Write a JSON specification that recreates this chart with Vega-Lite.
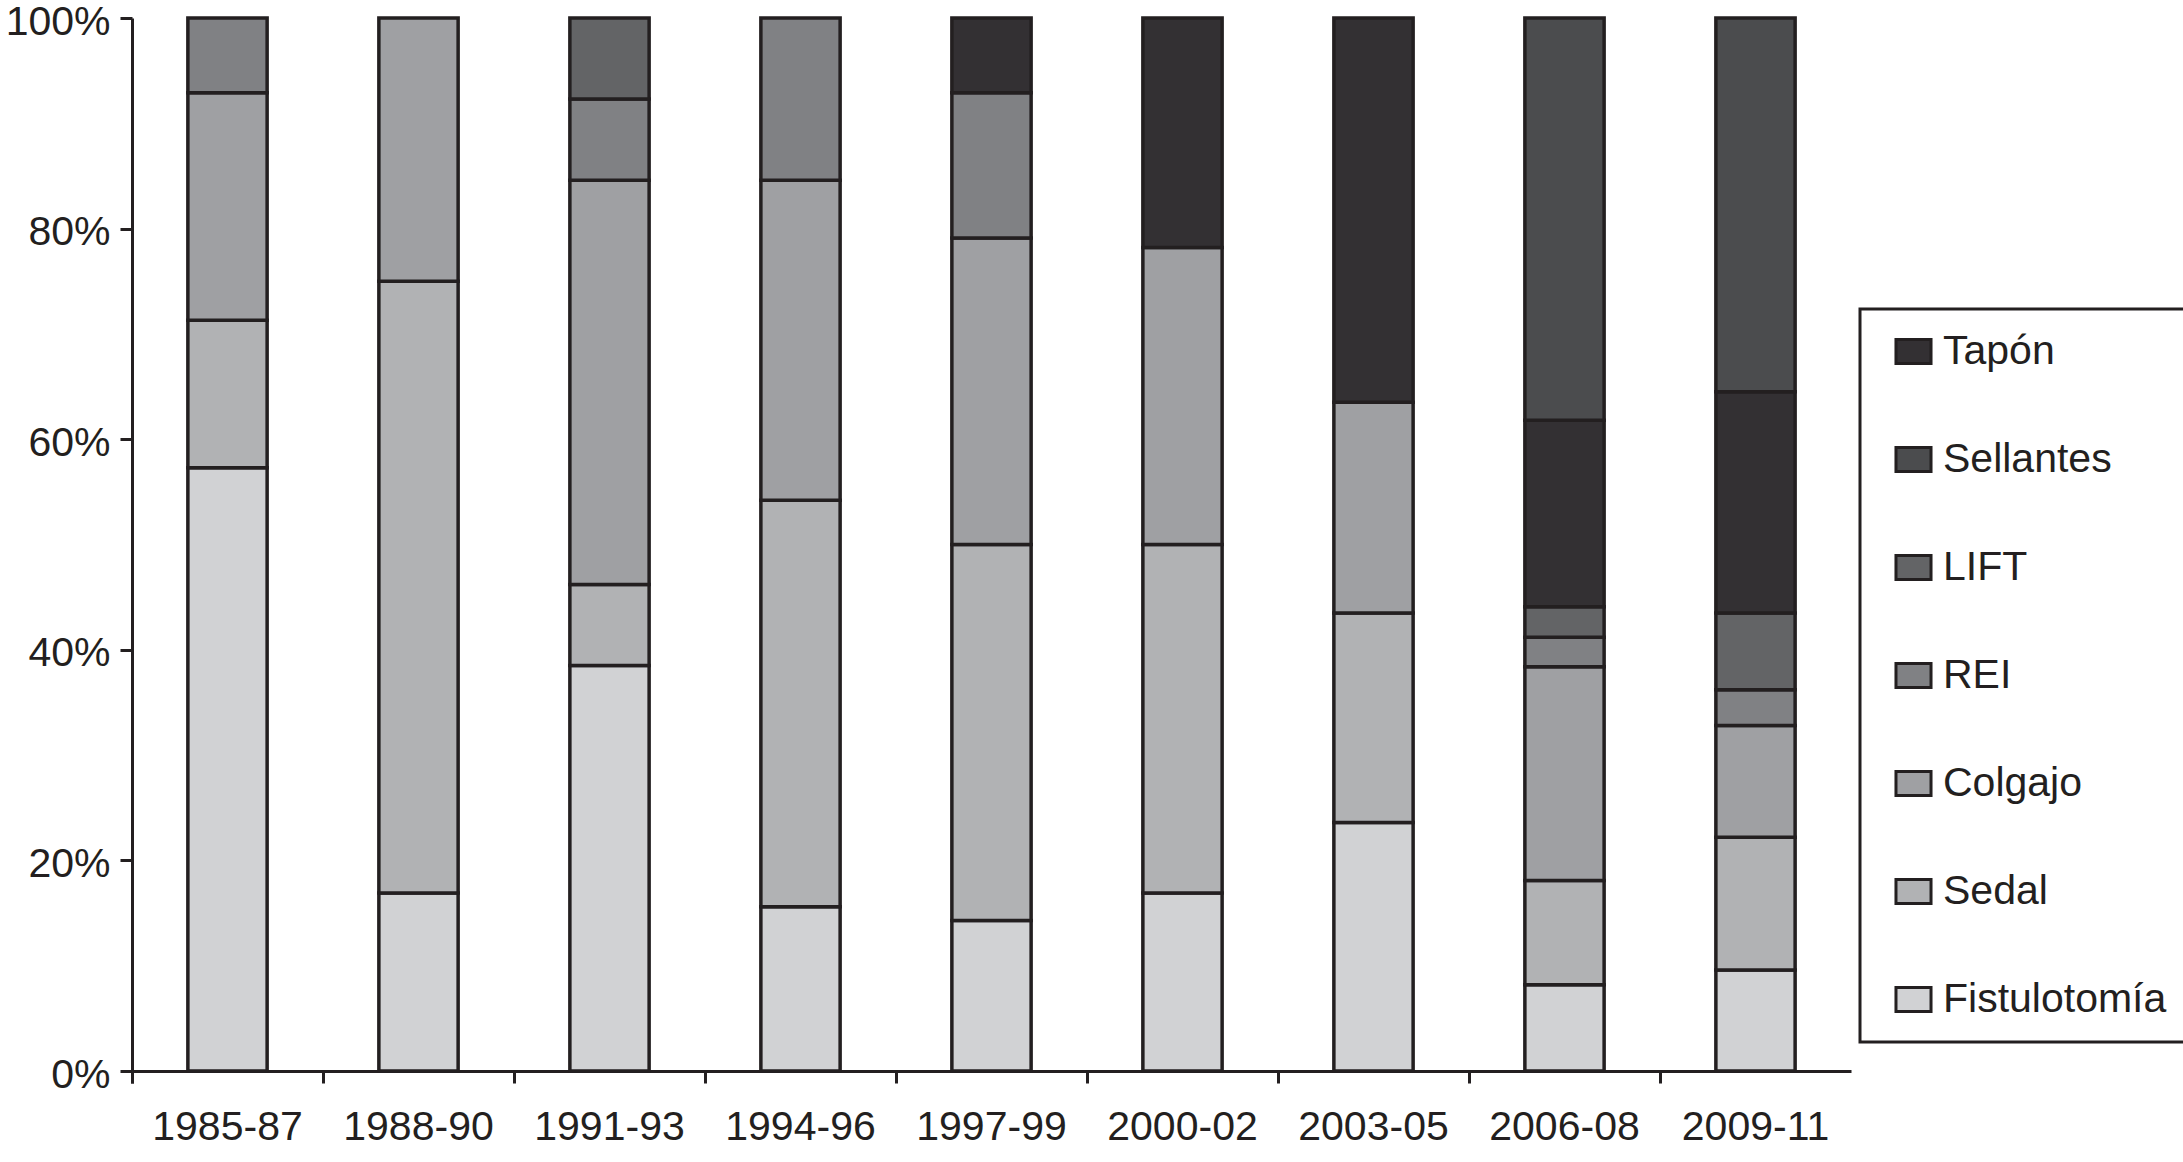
{
  "$schema": "https://vega.github.io/schema/vega-lite/v6.json",
  "autosize": {"type": "none"},
  "padding": {"left": 132, "top": 18, "right": 332, "bottom": 91},
  "width": 1719,
  "height": 1053,
  "background": "white",
  "data": {
    "values": [
      {"periodo": "1985-87", "tecnica": "Fistulotomía", "ord": 1, "pct": 57.3},
      {"periodo": "1985-87", "tecnica": "Sedal", "ord": 2, "pct": 14.0},
      {"periodo": "1985-87", "tecnica": "Colgajo", "ord": 3, "pct": 21.6},
      {"periodo": "1985-87", "tecnica": "REI", "ord": 4, "pct": 7.1},
      {"periodo": "1988-90", "tecnica": "Fistulotomía", "ord": 1, "pct": 16.9},
      {"periodo": "1988-90", "tecnica": "Sedal", "ord": 2, "pct": 58.1},
      {"periodo": "1988-90", "tecnica": "Colgajo", "ord": 3, "pct": 25.0},
      {"periodo": "1991-93", "tecnica": "Fistulotomía", "ord": 1, "pct": 38.5},
      {"periodo": "1991-93", "tecnica": "Sedal", "ord": 2, "pct": 7.7},
      {"periodo": "1991-93", "tecnica": "Colgajo", "ord": 3, "pct": 38.4},
      {"periodo": "1991-93", "tecnica": "REI", "ord": 4, "pct": 7.7},
      {"periodo": "1991-93", "tecnica": "LIFT", "ord": 5, "pct": 7.7},
      {"periodo": "1994-96", "tecnica": "Fistulotomía", "ord": 1, "pct": 15.6},
      {"periodo": "1994-96", "tecnica": "Sedal", "ord": 2, "pct": 38.6},
      {"periodo": "1994-96", "tecnica": "Colgajo", "ord": 3, "pct": 30.4},
      {"periodo": "1994-96", "tecnica": "REI", "ord": 4, "pct": 15.4},
      {"periodo": "1997-99", "tecnica": "Fistulotomía", "ord": 1, "pct": 14.3},
      {"periodo": "1997-99", "tecnica": "Sedal", "ord": 2, "pct": 35.7},
      {"periodo": "1997-99", "tecnica": "Colgajo", "ord": 3, "pct": 29.1},
      {"periodo": "1997-99", "tecnica": "REI", "ord": 4, "pct": 13.8},
      {"periodo": "1997-99", "tecnica": "Tapón", "ord": 6, "pct": 7.1},
      {"periodo": "2000-02", "tecnica": "Fistulotomía", "ord": 1, "pct": 16.9},
      {"periodo": "2000-02", "tecnica": "Sedal", "ord": 2, "pct": 33.1},
      {"periodo": "2000-02", "tecnica": "Colgajo", "ord": 3, "pct": 28.2},
      {"periodo": "2000-02", "tecnica": "Tapón", "ord": 6, "pct": 21.8},
      {"periodo": "2003-05", "tecnica": "Fistulotomía", "ord": 1, "pct": 23.6},
      {"periodo": "2003-05", "tecnica": "Sedal", "ord": 2, "pct": 19.9},
      {"periodo": "2003-05", "tecnica": "Colgajo", "ord": 3, "pct": 20.0},
      {"periodo": "2003-05", "tecnica": "Tapón", "ord": 6, "pct": 36.5},
      {"periodo": "2006-08", "tecnica": "Fistulotomía", "ord": 1, "pct": 8.2},
      {"periodo": "2006-08", "tecnica": "Sedal", "ord": 2, "pct": 9.9},
      {"periodo": "2006-08", "tecnica": "Colgajo", "ord": 3, "pct": 20.3},
      {"periodo": "2006-08", "tecnica": "REI", "ord": 4, "pct": 2.8},
      {"periodo": "2006-08", "tecnica": "LIFT", "ord": 5, "pct": 2.9},
      {"periodo": "2006-08", "tecnica": "Tapón", "ord": 6, "pct": 17.7},
      {"periodo": "2006-08", "tecnica": "Sellantes", "ord": 7, "pct": 38.2},
      {"periodo": "2009-11", "tecnica": "Fistulotomía", "ord": 1, "pct": 9.6},
      {"periodo": "2009-11", "tecnica": "Sedal", "ord": 2, "pct": 12.6},
      {"periodo": "2009-11", "tecnica": "Colgajo", "ord": 3, "pct": 10.6},
      {"periodo": "2009-11", "tecnica": "REI", "ord": 4, "pct": 3.4},
      {"periodo": "2009-11", "tecnica": "LIFT", "ord": 5, "pct": 7.3},
      {"periodo": "2009-11", "tecnica": "Tapón", "ord": 6, "pct": 21.0},
      {"periodo": "2009-11", "tecnica": "Sellantes", "ord": 7, "pct": 35.5}
    ]
  },
  "mark": {"type": "bar", "width": {"band": 0.415}, "stroke": "#231f20", "strokeWidth": 3.5, "opacity": 1},
  "encoding": {
    "x": {
      "field": "periodo",
      "type": "nominal",
      "sort": null,
      "scale": {"paddingInner": 0, "paddingOuter": 0},
      "axis": {
        "title": null,
        "labelAngle": 0,
        "bandPosition": 0,
        "tickExtra": true,
        "domainColor": "#231f20",
        "domainWidth": 3,
        "tickColor": "#231f20",
        "tickWidth": 3,
        "tickSize": 12,
        "labelFontSize": 41,
        "labelFont": "Liberation Sans",
        "labelColor": "#231f20",
        "labelPadding": 24
      }
    },
    "y": {
      "field": "pct",
      "type": "quantitative",
      "stack": "zero",
      "scale": {"domain": [0, 100], "nice": false},
      "axis": {
        "title": null,
        "values": [0, 20, 40, 60, 80, 100],
        "labelExpr": "datum.value + '%'",
        "grid": false,
        "domainColor": "#231f20",
        "domainWidth": 3,
        "tickColor": "#231f20",
        "tickWidth": 3,
        "tickSize": 12,
        "labelFontSize": 41,
        "labelFont": "Liberation Sans",
        "labelColor": "#231f20",
        "labelPadding": 10,
        "labelOffset": 4
      }
    },
    "order": {"field": "ord", "type": "quantitative", "sort": "ascending"},
    "color": {
      "field": "tecnica",
      "type": "nominal",
      "scale": {
        "domain": ["Tapón", "Sellantes", "LIFT", "REI", "Colgajo", "Sedal", "Fistulotomía"],
        "range": ["#333033", "#4b4c4e", "#636466", "#808184", "#9fa0a3", "#b1b2b4", "#d1d2d4"]
      },
      "legend": {
        "title": null,
        "orient": "none",
        "legendX": 1728,
        "legendY": 291,
        "padding": 22,
        "strokeColor": "#231f20",
        "fillColor": "white",
        "symbolType": "M-1.46,-1L1.46,-1L1.46,1L-1.46,1Z",
        "symbolSize": 576,
        "symbolOffset": 11,
        "symbolStrokeColor": "#231f20",
        "symbolStrokeWidth": 3,
        "symbolOpacity": 1,
        "labelFontSize": 41,
        "labelFont": "Liberation Sans",
        "labelColor": "#231f20",
        "labelOffset": 9,
        "rowPadding": 66,
        "labelLimit": 400,
        "encode": {"legend": {"update": {"strokeWidth": {"value": 3}}}}
      }
    }
  },
  "config": {"view": {"stroke": null}}
}
